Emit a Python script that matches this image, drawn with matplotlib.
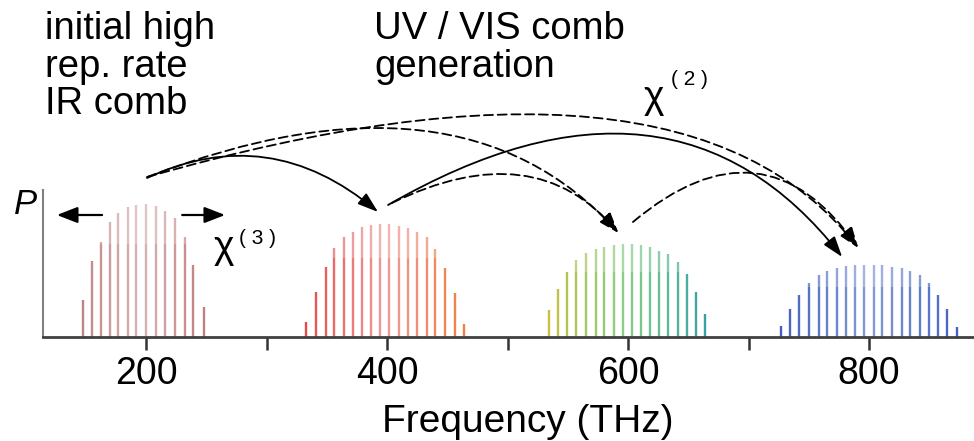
import numpy as np
import matplotlib
matplotlib.use("Agg")
import matplotlib.pyplot as plt
from matplotlib.colors import LinearSegmentedColormap

plt.rcParams['font.family'] = ['Liberation Sans', 'DejaVu Sans']

# comb lines: frequency (THz) and relative power
ir_freq = [148, 155, 163, 170, 177, 185, 192, 200, 208, 216, 224, 232, 239, 248]
ir_pow = [37, 76, 95, 115, 124, 130, 132, 133, 131, 126, 119, 100, 72, 30]

red_freq = [333, 341, 349, 356, 364, 372, 379, 387, 394, 402, 410, 417, 425,
            433, 440, 448, 456, 464]
red_pow = [15, 45, 70, 89, 100, 105, 110, 112, 113, 113, 111, 109, 105, 100,
           88, 69, 44, 13]

green_freq = [534, 542, 549, 557, 565, 573, 580, 588, 596, 603, 611, 618, 626,
              633, 641, 649, 656, 664]
green_pow = [27, 48, 65, 77, 84, 88, 90, 92, 93, 93, 92, 90, 86, 83, 75, 63,
             45, 23]

blue_freq = [727, 734, 742, 750, 758, 765, 773, 781, 788, 796, 804, 811, 819,
             827, 834, 842, 850, 857, 865, 873]
blue_pow = [11, 28, 42, 54, 62, 66, 69, 71, 72, 72, 72, 72, 70, 69, 66, 62,
            54, 42, 28, 10]

major_ticks = [200, 400, 600, 800]
minor_ticks = [300, 500, 700]

# comb colours: left edge, centre, right edge
ir_cols = ['#c08484', '#cfa2a2', '#c07e7e']
red_cols = ['#e24c4c', '#ec8080', '#f08040']
green_cols = ['#c8c040', '#6cc06c', '#36a0a6']
blue_cols = ['#3e5fbe', '#6482cc', '#4264c0']


def draw_comb(ax, freqs, heights, colors):
    cmap = LinearSegmentedColormap.from_list('comb', colors)
    band = 0.7 * max(heights)
    n = len(freqs)
    for i, (f, h) in enumerate(zip(freqs, heights)):
        t = i / (n - 1)
        base = np.array(cmap(t)[:3])
        w = 1 - abs(2 * t - 1)
        low = base + (1 - base) * 0.2 * w
        ax.vlines(f, 0, min(h, band), color=low, lw=1.7)
        if h > band:
            up = base + (1 - base) * (0.2 * w + 0.22)
            ax.vlines(f, band, h, color=up, lw=1.7)


fig = plt.figure(figsize=(9.74, 4.41), dpi=100)
ax = fig.add_axes([43 / 974, 104 / 441, 931 / 974, 337 / 441])
ax.set_xlim(114.5, 887)
ax.set_ylim(0, 337)

draw_comb(ax, ir_freq, ir_pow, ir_cols)
draw_comb(ax, red_freq, red_pow, red_cols)
draw_comb(ax, green_freq, green_pow, green_cols)
draw_comb(ax, blue_freq, blue_pow, blue_cols)

# chi(2) conversion arrows: (start f, start y, end f, end y, angleA, angleB, style)
arrows = [
    (200.8, 159, 392.5, 125, 25, -40, '-'),
    (400.8, 132, 777.6, 80, 30, -52, '-'),
    (201, 160, 791, 89, 16, -52, '--'),
    (201, 160, 592, 104, 21, -48, '--'),
    (404, 134, 592, 104, 26, -50, '--'),
    (604, 115, 791, 89, 40, -55, '--'),
]
for f0, y0, f1, y1, a, b, ls in arrows:
    ax.annotate('', xy=(f1, y1), xytext=(f0, y0),
                arrowprops=dict(arrowstyle='-|>,head_length=0.9,head_width=0.3',
                                connectionstyle='angle3,angleA=%d,angleB=%d' % (a, b),
                                lw=1.3, color='black',
                                linestyle=(0, (5, 2.6)) if ls == '--' else '-',
                                shrinkA=0, shrinkB=0, mutation_scale=14))

# chi(3) broadening arrows
for f0, f1 in [(163.5, 126), (230, 265.6)]:
    ax.annotate('', xy=(f1, 122), xytext=(f0, 122),
                arrowprops=dict(arrowstyle='-|>,head_length=0.9,head_width=0.35',
                                lw=1.6, color='black', shrinkA=0, shrinkB=0,
                                mutation_scale=14))

for s in ['top', 'right']:
    ax.spines[s].set_visible(False)
ax.spines['left'].set_bounds(0, 147)
ax.spines['left'].set_color('#808080')
ax.spines['left'].set_linewidth(1.5)
ax.spines['bottom'].set_color('#404040')
ax.spines['bottom'].set_linewidth(2)
ax.set_yticks([])
ax.set_xticks(major_ticks)
ax.set_xticks(minor_ticks, minor=True)
ax.tick_params(axis='x', which='both', length=9.5, width=1.8, color='#333333',
               direction='out', pad=4, labelsize=27)

fig.text(528 / 974, 9 / 441, 'Frequency (THz)', ha='center', va='baseline',
         fontsize=28)
fig.text(45 / 974, 1 - 11 / 441, 'initial high\nrep. rate\nIR comb', ha='left',
         va='top', fontsize=27.5, linespacing=1.06)
fig.text(374 / 974, 1 - 11 / 441, 'UV / VIS comb\ngeneration', ha='left',
         va='top', fontsize=27.5, linespacing=1.06)
fig.text(14 / 974, 1 - 214 / 441, 'P', fontsize=25, style='italic',
         ha='left', va='baseline')

fig.text(214 / 974, 1 - 258 / 441, 'χ', fontsize=28, ha='left', va='baseline')
fig.text(239 / 974, 1 - 244 / 441, '( 3 )', fontsize=15, ha='left',
         va='baseline')
fig.text(644 / 974, 1 - 108 / 441, 'χ', fontsize=28, ha='left', va='baseline')
fig.text(671 / 974, 1 - 85 / 441, '( 2 )', fontsize=15, ha='left',
         va='baseline')

fig.savefig('out.png', dpi=100)
